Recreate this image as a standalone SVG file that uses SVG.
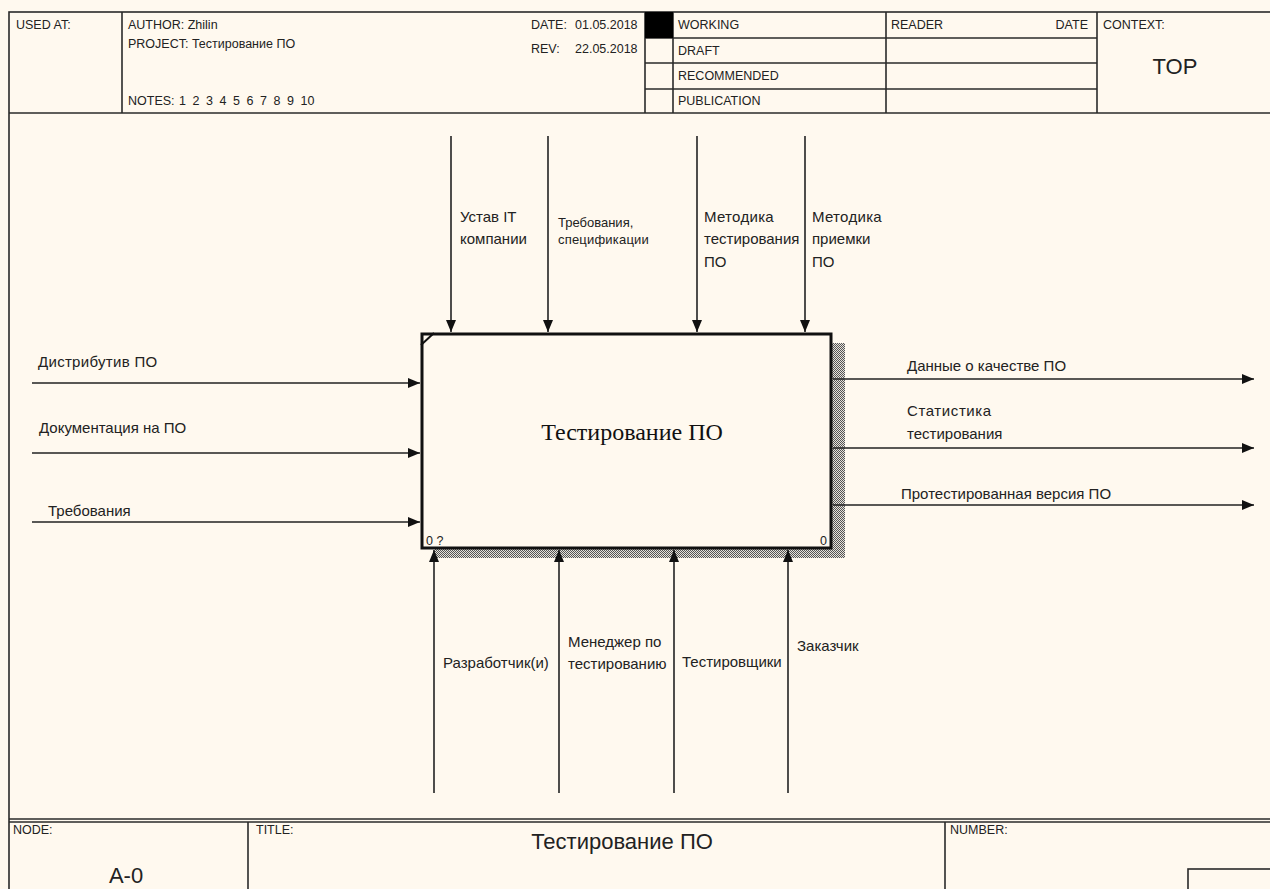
<svg xmlns="http://www.w3.org/2000/svg" width="1270" height="889" viewBox="0 0 1270 889">
<defs>
<style>
.f{fill:none;stroke:#2a2a2a;stroke-width:1.6}
.h{font-family:"Liberation Sans",Arial,sans-serif;font-size:12.5px;fill:#222}
.l{font-family:"Liberation Sans",Arial,sans-serif;font-size:15px;fill:#222}
.s{font-family:"Liberation Sans",Arial,sans-serif;font-size:13px;fill:#222}
.big{font-family:"Liberation Sans",Arial,sans-serif;font-size:22px;fill:#222}
.a{fill:none;stroke:#222;stroke-width:1.6}
</style>
<marker id="ah" viewBox="0 0 12 10" markerWidth="12" markerHeight="10" refX="12" refY="5" orient="auto" markerUnits="userSpaceOnUse">
<path d="M0,0 L12,5 L0,10 z" fill="#111"/>
</marker>
<pattern id="hatch" width="2" height="2" patternUnits="userSpaceOnUse">
<rect width="2" height="2" fill="#e6e2da"/>
<rect width="1" height="1" fill="#555"/>
<rect x="1" y="1" width="1" height="1" fill="#555"/>
</pattern>
</defs>
<rect width="1270" height="889" fill="#fff9ef"/>
<g id="frame">
<rect class="f" x="9" y="12" width="1270" height="890"/>
<line class="f" x1="9" y1="113" x2="1270" y2="113"/>
<line class="f" x1="122" y1="12" x2="122" y2="113"/>
<line class="f" x1="645" y1="12" x2="645" y2="113"/>
<line class="f" x1="673" y1="12" x2="673" y2="113"/>
<line class="f" x1="886" y1="12" x2="886" y2="113"/>
<line class="f" x1="1097" y1="12" x2="1097" y2="113"/>
<line class="f" x1="645" y1="38" x2="1097" y2="38"/>
<line class="f" x1="645" y1="63" x2="1097" y2="63"/>
<line class="f" x1="645" y1="89" x2="1097" y2="89"/>
<rect x="645" y="12" width="28" height="26" fill="#000"/>
<line class="f" x1="9" y1="819" x2="1270" y2="819"/>
<line class="f" x1="9" y1="822" x2="1270" y2="822"/>
<line class="f" x1="248" y1="822" x2="248" y2="889"/>
<line class="f" x1="945" y1="822" x2="945" y2="889"/>
<rect class="f" x="1188" y="869" width="100" height="40"/>
<text class="h" x="16" y="29">USED AT:</text>
<text class="h" x="128" y="29">AUTHOR:  Zhilin</text>
<text class="h" x="128" y="48">PROJECT:  Тестирование ПО</text>
<text class="h" x="128" y="105">NOTES:</text>
<text class="h" y="105"><tspan x="179">1</tspan><tspan x="192.5">2</tspan><tspan x="206">3</tspan><tspan x="219.5">4</tspan><tspan x="233">5</tspan><tspan x="246.5">6</tspan><tspan x="260">7</tspan><tspan x="273.5">8</tspan><tspan x="287">9</tspan><tspan x="300.5">10</tspan></text>
<text class="h" x="531" y="29">DATE:</text>
<text class="h" x="575" y="29">01.05.2018</text>
<text class="h" x="531" y="53">REV:</text>
<text class="h" x="575" y="53">22.05.2018</text>
<text class="h" x="678" y="29">WORKING</text>
<text class="h" x="678" y="55">DRAFT</text>
<text class="h" x="678" y="80">RECOMMENDED</text>
<text class="h" x="678" y="105">PUBLICATION</text>
<text class="h" x="891" y="29">READER</text>
<text class="h" x="1088" y="29" text-anchor="end">DATE</text>
<text class="h" x="1103" y="29">CONTEXT:</text>
<text class="big" x="1175" y="74" text-anchor="middle" font-size="25">TOP</text>
<text class="h" x="13" y="834">NODE:</text>
<text class="big" x="126" y="883" text-anchor="middle">A-0</text>
<text class="h" x="256" y="834">TITLE:</text>
<text class="big" x="622" y="849" text-anchor="middle">Тестирование ПО</text>
<text class="h" x="950" y="834">NUMBER:</text>
</g>
<g id="node-A0">
<rect x="435" y="343" width="410" height="215" fill="url(#hatch)"/>
<rect x="422" y="334" width="409" height="214" fill="#fff9ef" stroke="#111" stroke-width="3"/>
<line x1="421" y1="345" x2="434" y2="333" stroke="#111" stroke-width="2"/>
<text x="632" y="440" text-anchor="middle" font-family="'Liberation Serif','Times New Roman',serif" font-size="24" fill="#111">Тестирование ПО</text>
<text class="h" x="426" y="545" fill="#445">0 ?</text>
<text class="h" x="827" y="545" text-anchor="end" fill="#445">0</text>
</g>
<g id="connectors">
<line class="a" x1="451" y1="136" x2="451" y2="332" marker-end="url(#ah)"/>
<line class="a" x1="548" y1="136" x2="548" y2="332" marker-end="url(#ah)"/>
<line class="a" x1="697" y1="136" x2="697" y2="332" marker-end="url(#ah)"/>
<line class="a" x1="805" y1="136" x2="805" y2="332" marker-end="url(#ah)"/>
<line class="a" x1="32" y1="383" x2="420" y2="383" marker-end="url(#ah)"/>
<line class="a" x1="32" y1="453" x2="420" y2="453" marker-end="url(#ah)"/>
<line class="a" x1="32" y1="522" x2="420" y2="522" marker-end="url(#ah)"/>
<line class="a" x1="833" y1="379" x2="1254" y2="379" marker-end="url(#ah)"/>
<line class="a" x1="833" y1="448" x2="1254" y2="448" marker-end="url(#ah)"/>
<line class="a" x1="833" y1="505" x2="1254" y2="505" marker-end="url(#ah)"/>
<line class="a" x1="434" y1="793" x2="434" y2="550" marker-end="url(#ah)"/>
<line class="a" x1="559" y1="793" x2="559" y2="550" marker-end="url(#ah)"/>
<line class="a" x1="674" y1="793" x2="674" y2="550" marker-end="url(#ah)"/>
<line class="a" x1="788" y1="793" x2="788" y2="550" marker-end="url(#ah)"/>
<text class="l" x="460" y="222">Устав IT</text>
<text class="l" x="460" y="244" font-size="14.5">компании</text>
<text class="s" x="558" y="227">Требования,</text>
<text class="s" x="558" y="244" letter-spacing="0.2">спецификации</text>
<text class="l" x="704" y="222" letter-spacing="0.3">Методика</text>
<text class="l" x="704" y="244">тестирования</text>
<text class="l" x="704" y="267">ПО</text>
<text class="l" x="812" y="222" letter-spacing="0.3">Методика</text>
<text class="l" x="812" y="244">приемки</text>
<text class="l" x="812" y="267">ПО</text>
<text class="l" x="38" y="367" font-size="16" letter-spacing="0.3">Дистрибутив ПО</text>
<text class="l" x="39" y="433" font-size="15.5">Документация на ПО</text>
<text class="l" x="48" y="516" font-size="14.5">Требования</text>
<text class="l" x="907" y="371" font-size="14.8">Данные о качестве ПО</text>
<text class="l" x="907" y="416" letter-spacing="0.6">Статистика</text>
<text class="l" x="907" y="439">тестирования</text>
<text class="l" x="901" y="499">Протестированная версия ПО</text>
<text class="l" x="443" y="668">Разработчик(и)</text>
<text class="l" x="568" y="647">Менеджер по</text>
<text class="l" x="568" y="669">тестированию</text>
<text class="l" x="682" y="667">Тестировщики</text>
<text class="l" x="797" y="651">Заказчик</text>
</g>
</svg>
